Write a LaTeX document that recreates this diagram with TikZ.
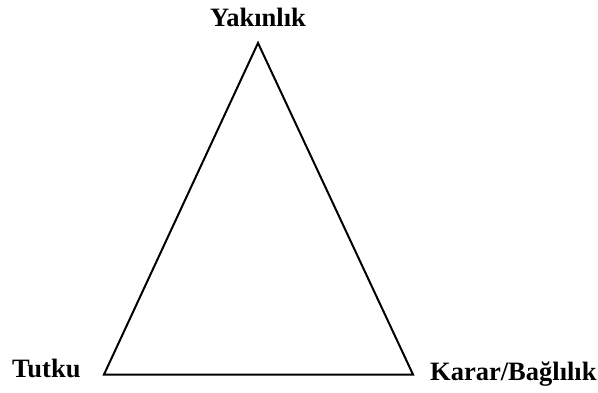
\documentclass[tikz,border=0pt]{standalone}
\usepackage{fontspec}
\setmainfont{Liberation Serif}
\usepackage{tikz}
\usetikzlibrary{positioning}
\tikzset{
  corner/.style={
    font=\bfseries\fontsize{26.5}{28}\selectfont,
    inner sep=0pt
  },
  side/.style={draw=black, line width=2pt, line join=miter}
}

\begin{document}
\begin{tikzpicture}[x=1pt, y=1pt]
    \useasboundingbox (0,0) rectangle (598,392);

    \coordinate (yak) at (258,349);
    \coordinate (tut) at (104,17.5);
    \coordinate (kar) at (413,17.5);

    \draw[side] (yak) -- (kar) -- (tut) -- cycle;

    \node[corner, anchor=base] (lyak) at (258,365) {Yakınlık};
    \node[corner, anchor=base west] (ltut) at (12,15) {Tutku};
    \node[corner, anchor=base west] (lkar) at (430,12) {Karar/Bağlılık};
  \end{tikzpicture}
\end{document}
